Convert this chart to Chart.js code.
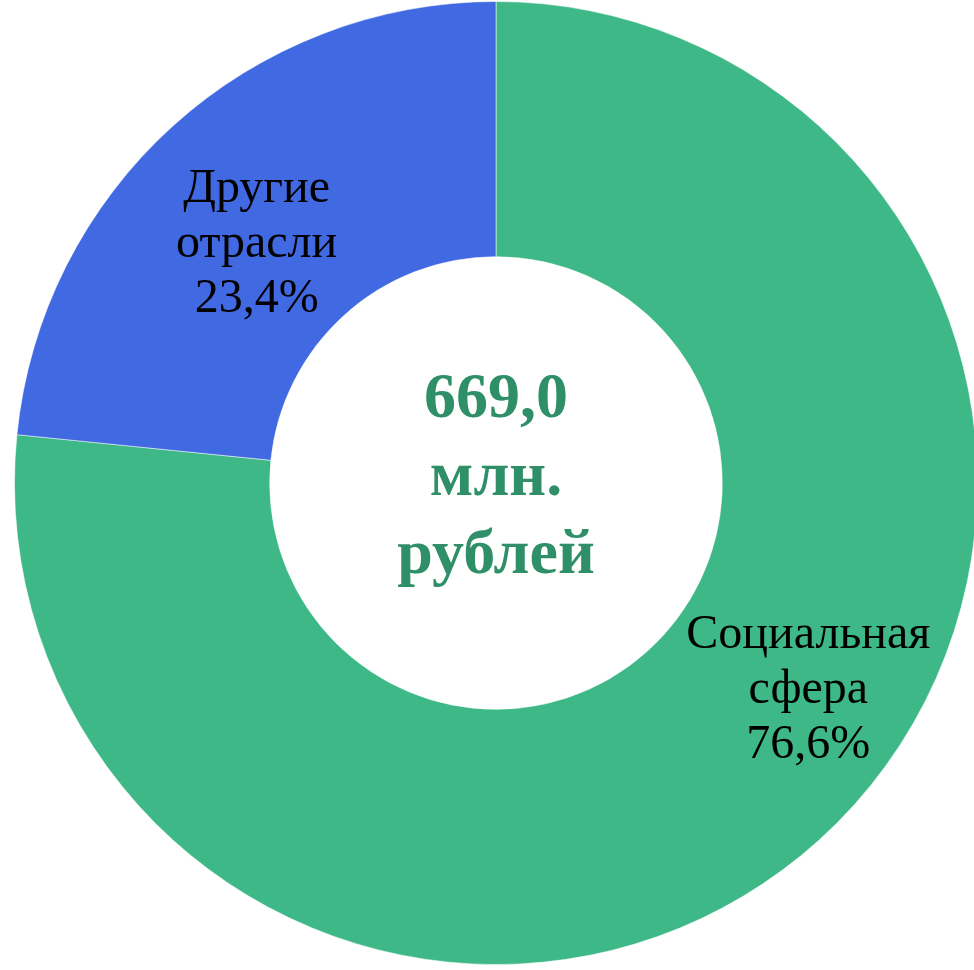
<!DOCTYPE html>
<html>
<head>
<meta charset="utf-8">
<script src="https://cdn.jsdelivr.net/npm/chart.js@4/dist/chart.umd.min.js"></script>
<style>
  html, body { margin: 0; padding: 0; background: #fff; overflow: hidden; }
  body { width: 974px; height: 970px; position: relative; }
  #wrap { position: absolute; left: 14px; top: 1px; width: 964px; height: 964px; }
</style>
</head>
<body>
<div id="wrap"><canvas id="donut"></canvas></div>
<script>
// data
var categories = ['Социальная сфера', 'Другие отрасли'];
var labelLines = [['Социальная', 'сфера'], ['Другие', 'отрасли']];
var shares = [76.6, 23.4];
var totalLines = ['669,0', 'млн.', 'рублей'];
var colors = ['#3db886', '#4169e1'];

// per-slice nudges of the label from the arc centroid
var labelNudge = [[75, -55], [-2, 24]];

var sliceLabels = {
  id: 'sliceLabels',
  afterDatasetsDraw: function(chart) {
    var ctx = chart.ctx;
    var meta = chart.getDatasetMeta(0);
    ctx.save();
    ctx.fillStyle = '#000';
    ctx.font = '48px "Liberation Serif", "Times New Roman", serif';
    ctx.textAlign = 'center';
    ctx.textBaseline = 'middle';
    meta.data.forEach(function(arc, i) {
      var p = arc.tooltipPosition();
      var x = p.x + labelNudge[i][0];
      var y = p.y + labelNudge[i][1];
      var lines = labelLines[i].concat([shares[i].toFixed(1).replace('.', ',') + '%']);
      var lh = 55;
      var y0 = y - lh * (lines.length - 1) / 2;
      lines.forEach(function(t, k) { ctx.fillText(t, x, y0 + k * lh); });
    });
    // centre total
    var a = meta.data[0];
    ctx.fillStyle = '#2e8f68';
    ctx.font = 'bold 64px "Liberation Serif", "Times New Roman", serif';
    var lh2 = 78;
    var cy = a.y - 5 - lh2 * (totalLines.length - 1) / 2;
    totalLines.forEach(function(t, k) { ctx.fillText(t, a.x, cy + k * lh2); });
    ctx.restore();
  }
};

window.onload = function() {
  var ctx = document.getElementById('donut').getContext('2d');
  new Chart(ctx, {
    type: 'doughnut',
    data: {
      labels: categories,
      datasets: [{
        data: shares,
        backgroundColor: colors,
        borderColor: 'rgba(255,255,255,0.5)',
        borderWidth: 1
      }]
    },
    options: {
      responsive: true,
      maintainAspectRatio: false,
      animation: false,
      cutout: '47%',
      layout: { padding: 0 },
      plugins: {
        legend: { display: false },
        tooltip: { enabled: false }
      }
    },
    plugins: [sliceLabels]
  });
};
</script>
</body>
</html>
